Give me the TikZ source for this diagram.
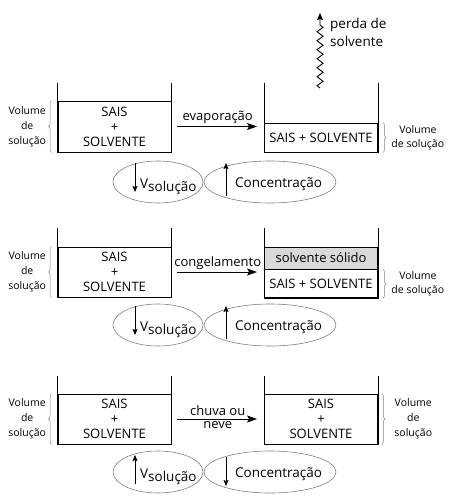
\documentclass[tikz,border=0pt]{standalone}
\usepackage{fontspec}
\setmainfont{Open Sans}
\usepackage{tikz}
\usetikzlibrary{arrows.meta}
\usetikzlibrary{positioning}
\usetikzlibrary{shapes.geometric}
\usetikzlibrary{decorations.pathreplacing}
\usetikzlibrary{decorations.pathmorphing}

\begin{document}
\begin{tikzpicture}[x=1pt, y=-1pt,
        liquido/.style={draw, line width=0.9pt, minimum width=113pt, inner sep=0pt, align=center, font=\fontsize{13}{15}\selectfont},
        gelo/.style={liquido, fill=black!15},
        parede/.style={line width=0.9pt},
        chave/.style={decorate, decoration={brace, amplitude=3pt}, gray, line width=0.5pt},
        volume/.style={font=\fontsize{10.5}{15}\selectfont, align=center},
        volumedir/.style={font=\fontsize{10.5}{14}\selectfont, align=center},
        seta/.style={-{Stealth[length=10pt, width=7pt, inset=2pt]}, line width=0.9pt},
        setinha/.style={-{Stealth[length=6pt, width=5pt, inset=1pt]}, line width=0.7pt},
        elipse/.style={ellipse, draw=gray, line width=0.6pt, inner sep=0pt, minimum height=42pt},
        rotulo/.style={font=\fontsize{13}{14}\selectfont, inner sep=2pt},
        grandeza/.style={font=\fontsize{13.5}{15}\selectfont, inner sep=0pt, anchor=base west}
    ]
    \useasboundingbox (0,0) rectangle (453,503);

    % Linha 1: evaporacao
    \node[liquido, minimum height=51pt] (solA1) at (114.5,126.5) {SAIS\\+\\SOLVENTE};
    \draw[parede] ([yshift=18pt]solA1.north west) -- (solA1.south west) -- (solA1.south east) -- ([yshift=18pt]solA1.north east);
    \node[liquido, minimum height=29pt] (solB1) at (321,137.5) {SAIS + SOLVENTE};
    \draw[parede] ([yshift=40pt]solB1.north west) -- (solB1.south west) -- (solB1.south east) -- ([yshift=40pt]solB1.north east);

    \node[volume, left=8pt of solA1] (volA1) {Volume\\de\\solução};
    \draw[chave] ([xshift=-6pt]solA1.south west) -- ([xshift=-6pt]solA1.north west);
    \node[volumedir, right=10pt of solB1] (volB1) {Volume\\de solução};
    \draw[chave] ([xshift=5pt]solB1.north east) -- ([xshift=5pt]solB1.south east);

    \draw[seta, shorten <=6pt, shorten >=7pt] (solA1.east) -- (solA1.east -| solB1.west) node[rotulo, midway, above] {evaporação};

    \coordinate (fundo) at (320,88);
    \coordinate (vapor) at (320,13);
    \draw[setinha, line width=0.9pt, -{Stealth[length=7pt, width=6pt, inset=1pt]}, decorate, decoration={zigzag, segment length=9pt, amplitude=3pt, post length=8pt}] (fundo) -- (vapor);
    \node[rotulo, align=left, anchor=north west, font=\fontsize{13.5}{18.4}\selectfont] (perda) at (328,16) {perda de\\solvente};

    \node[elipse, minimum width=90pt] (volE1) at (158,182) {};
    \node[elipse, minimum width=132pt] (conE1) at (270,182) {};
    \draw[setinha] ([xshift=-23pt, yshift=19pt]volE1.center) -- ([xshift=-23pt, yshift=-10pt]volE1.center);
    \node[grandeza] (vsol1) at ([xshift=-18pt, yshift=-6pt]volE1.center) {V\raisebox{-3pt}{solução}};
    \draw[setinha] ([xshift=-44pt, yshift=-14pt]conE1.center) -- ([xshift=-44pt, yshift=19pt]conE1.center);
    \node[grandeza] (conc1) at ([xshift=-35pt, yshift=-5pt]conE1.center) {Concentração};

    % Linha 2: congelamento
    \node[liquido, minimum height=50pt] (solA2) at (114.5,272) {SAIS\\+\\SOLVENTE};
    \draw[parede] ([yshift=19pt]solA2.north west) -- (solA2.south west) -- (solA2.south east) -- ([yshift=19pt]solA2.north east);
    \node[gelo, minimum height=22pt] (gelo2) at (321,258) {solvente sólido};
    \node[liquido, minimum height=28pt, below=0pt of gelo2] (solB2) {SAIS + SOLVENTE};
    \draw[parede] ([yshift=19pt]gelo2.north west) -- (solB2.south west) -- (solB2.south east) -- ([yshift=19pt]gelo2.north east);

    \node[volume, left=8pt of solA2] (volA2) {Volume\\de\\solução};
    \draw[chave] ([xshift=-6pt]solA2.south west) -- ([xshift=-6pt]solA2.north west);
    \node[volumedir, right=10pt of solB2] (volB2) {Volume\\de solução};
    \draw[chave] ([xshift=5pt]solB2.north east) -- ([xshift=5pt]solB2.south east);

    \draw[seta, shorten <=6pt, shorten >=7pt] (solA2.east) -- (solA2.east -| solB2.west) node[rotulo, midway, above] {congelamento};

    \node[elipse, minimum width=90pt] (volE2) at (158,325) {};
    \node[elipse, minimum width=132pt] (conE2) at (270,325) {};
    \draw[setinha] ([xshift=-23pt, yshift=19pt]volE2.center) -- ([xshift=-23pt, yshift=-10pt]volE2.center);
    \node[grandeza] (vsol2) at ([xshift=-18pt, yshift=-6pt]volE2.center) {V\raisebox{-3pt}{solução}};
    \draw[setinha] ([xshift=-44pt, yshift=-14pt]conE2.center) -- ([xshift=-44pt, yshift=19pt]conE2.center);
    \node[grandeza] (conc2) at ([xshift=-35pt, yshift=-5pt]conE2.center) {Concentração};

    % Linha 3: chuva ou neve
    \node[liquido, minimum height=50pt] (solA3) at (114.5,419) {SAIS\\+\\SOLVENTE};
    \draw[parede] ([yshift=18pt]solA3.north west) -- (solA3.south west) -- (solA3.south east) -- ([yshift=18pt]solA3.north east);
    \node[liquido, minimum height=50pt] (solB3) at (321,419) {SAIS\\+\\SOLVENTE};
    \draw[parede] ([yshift=18pt]solB3.north west) -- (solB3.south west) -- (solB3.south east) -- ([yshift=18pt]solB3.north east);

    \node[volume, left=8pt of solA3] (volA3) {Volume\\de\\solução};
    \draw[chave] ([xshift=-6pt]solA3.south west) -- ([xshift=-6pt]solA3.north west);
    \node[volume, right=13pt of solB3] (volB3) {Volume\\de\\solução};
    \draw[chave] ([xshift=4pt]solB3.north east) -- ([xshift=4pt]solB3.south east);

    \draw[seta, shorten <=6pt, shorten >=7pt] (solA3.east) -- (solA3.east -| solB3.west)
        node[rotulo, midway, above, inner sep=3pt] {chuva ou}
        node[rotulo, midway, below] {neve};

    \node[elipse, minimum width=90pt] (volE3) at (158,472) {};
    \node[elipse, minimum width=132pt] (conE3) at (270,472) {};
    \draw[setinha] ([xshift=-23pt, yshift=-12pt]volE3.center) -- ([xshift=-23pt, yshift=17pt]volE3.center);
    \node[grandeza] (vsol3) at ([xshift=-18pt, yshift=-6pt]volE3.center) {V\raisebox{-3pt}{solução}};
    \draw[setinha] ([xshift=-44pt, yshift=15pt]conE3.center) -- ([xshift=-44pt, yshift=-14pt]conE3.center);
    \node[grandeza] (conc3) at ([xshift=-35pt, yshift=-5pt]conE3.center) {Concentração};

\end{tikzpicture}
\end{document}
